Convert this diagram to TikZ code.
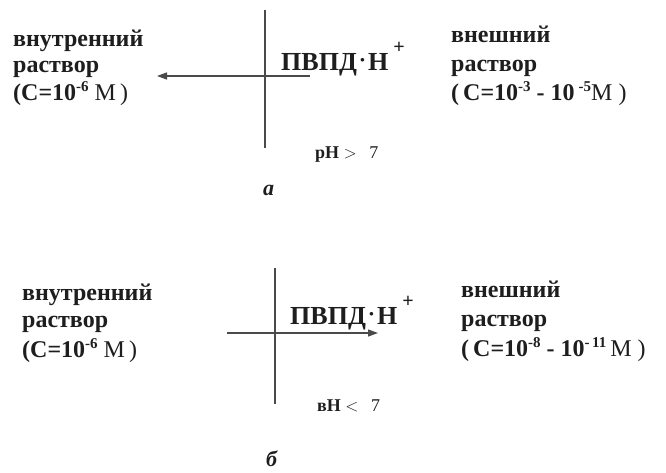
\documentclass[tikz,border=0pt]{standalone}
\usepackage{fontspec}
\setmainfont{Liberation Serif}
\usetikzlibrary{arrows.meta}
\definecolor{ink}{HTML}{1E1E1E}
\definecolor{linec}{HTML}{4A4A4A}
\tikzset{
  lbl/.style={anchor=base west,inner sep=0pt,text=ink,font=\fontsize{24}{28}\selectfont\bfseries},
  formula/.style={anchor=base west,inner sep=0pt,text=ink,font=\fontsize{26}{30}\selectfont\bfseries},
  ph/.style={anchor=base west,inner sep=0pt,text=ink,font=\fontsize{18}{21}\selectfont\bfseries},
  tag/.style={anchor=base west,inner sep=0pt,text=ink,font=\fontsize{22}{26}\selectfont\bfseries\itshape},
  wall/.style={draw=linec,line width=1.3pt},
  flow/.style={draw=linec,line width=1.3pt,-{Triangle[length=10pt,width=7pt]}}
}
\newcommand{\supx}[1]{\raisebox{0.36em}{\fontsize{15}{17}\selectfont\bfseries #1}}
\newcommand{\pvpd}{ПВПД\kern2pt{\fontsize{22}{22}\selectfont\raisebox{0.12em}{·}}\kern2pt H\raisebox{0.62em}{\fontsize{20}{20}\selectfont\kern5pt+}}
\begin{document}
\begin{tikzpicture}[x=1pt,y=-1pt]
\useasboundingbox[fill=white] (0,0) rectangle (666,472);
% ---- panel a
\coordinate (wa1) at (265,10);
\coordinate (wa2) at (265,148);
\draw[wall] (wa1) -- (wa2);
\coordinate (fa1) at (310,76);
\coordinate (fa2) at (157,76);
\draw[flow] (fa1) -- (fa2);
\node[formula] (pa) at (281,70) {\pvpd};
\node[lbl] (ia1) at (13,46) {внутренний};
\node[lbl] (ia2) at (13,72) {раствор};
\node[lbl] (ia3) at (13,100) {(C=10\supx{-6}\ \mdseries M\,)};
\node[lbl] (ea1) at (451,42) {внешний};
\node[lbl] (ea2) at (451,71) {раствор};
\node[lbl] (ea3) at (451,100) {(\,C=10\supx{-3}\ - 10\,\supx{-5}\mdseries M\ )};
\node[ph] (pha) at (315,158) {pH \mdseries$>$\;\, 7};
\node[tag] (ta) at (263,195) {а};
% ---- panel b
\coordinate (wb1) at (275,268);
\coordinate (wb2) at (275,404);
\draw[wall] (wb1) -- (wb2);
\coordinate (fb1) at (227,333);
\coordinate (fb2) at (378,333);
\draw[flow] (fb1) -- (fb2);
\node[formula] (pb) at (290,324) {\pvpd};
\node[lbl] (ib1) at (22,300) {внутренний};
\node[lbl] (ib2) at (22,327) {раствор};
\node[lbl] (ib3) at (22,357) {(C=10\supx{-6}\ \mdseries M\,)};
\node[lbl] (eb1) at (461,297) {внешний};
\node[lbl] (eb2) at (461,326) {раствор};
\node[lbl] (eb3) at (461,356) {(\,C=10\supx{-8}\ - 10\supx{-\,11}\,\mdseries M\ )};
\node[ph] (phb) at (317,411) {вH \mdseries$<$\;\, 7};
\node[tag] (tb) at (266,466) {б};
\end{tikzpicture}
\end{document}
